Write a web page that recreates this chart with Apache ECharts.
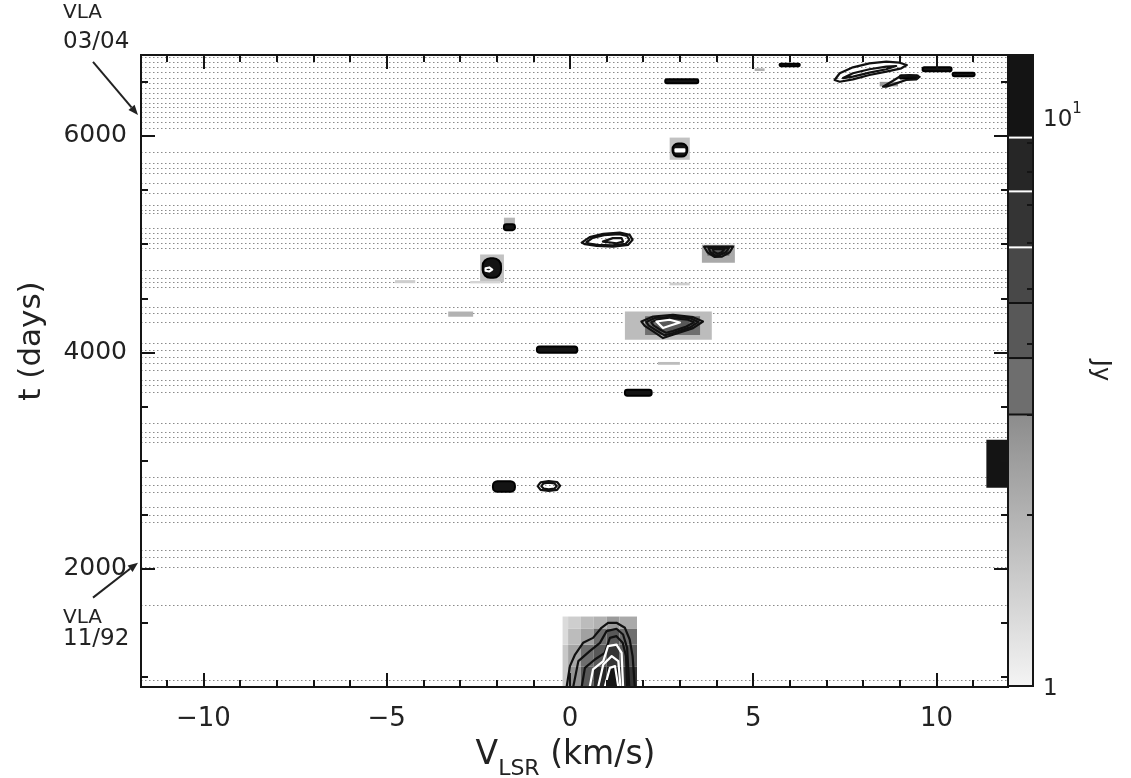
<!DOCTYPE html>
<html>
<head>
<meta charset="utf-8">
<script src="https://cdn.jsdelivr.net/npm/echarts@6/dist/echarts.min.js"></script>
<style>
  html, body { margin: 0; padding: 0; background: #fff; }
  #chart { width: 1131px; height: 778px; }
</style>
</head>
<body>
<div id="chart"></div>
<script>
// Velocity (km/s) and time (days) extents of the panel
const vRange = [-11.7, 11.95];
const tRange = [909, 6748];

// Tick positions
const vMajor = [-10, -5, 0, 5, 10];
const vMinor = [-11, -9, -8, -7, -6, -4, -3, -2, -1, 1, 2, 3, 4, 6, 7, 8, 9, 11];
const tMajor = [2000, 4000, 6000];
const tMinor = [1000, 1500, 2500, 3000, 3500, 4500, 5000, 5500, 6500];

// Observation epochs (days), drawn as dotted rows
const epochs = [
  6730, 6686, 6640, 6594, 6533, 6486, 6440, 6394, 6348, 6302, 6270, 6224,
  6178, 6132, 6071, 5855, 5748, 5702, 5656, 5564, 5471, 5363, 5317, 5289, 5151, 5099, 5058,
  5012, 4966, 4763, 4689, 4652, 4606, 4421, 4366, 4283, 4089, 4025, 3960,
  3905, 3840, 3748, 3701, 3637, 3351, 3268, 3221, 3175, 2852, 2778, 2714,
  2575, 2501, 2437, 2178, 2114, 2021, 1671, 978
];

// Flux cells: [v from, v to, t from, t to, flux density Jy]
const fluxCells = [
  [5.04, 5.31, 6600, 6625, 2.0],
  [8.45, 8.95, 6458, 6500, 2.6],
  [2.72, 3.27, 5780, 5985, 1.7],
  [-1.80, -1.50, 5180, 5245, 1.9],
  [3.60, 4.50, 4828, 4994, 2.2],
  [3.75, 4.35, 4895, 4975, 4.2],
  [-2.45, -1.80, 4650, 4905, 1.7],
  [-4.77, -4.22, 4640, 4668, 1.5],
  [-2.72, -1.90, 4638, 4660, 1.4],
  [2.72, 3.27, 4620, 4645, 1.5],
  [-3.32, -2.64, 4330, 4378, 2.0],
  [1.50, 3.87, 4117, 4378, 1.8],
  [2.05, 3.55, 4160, 4335, 3.3],
  [2.35, 3.25, 4200, 4310, 4.5],
  [2.40, 3.00, 3886, 3912, 1.8],
  [11.36, 11.93, 2751, 3194, 14],
  [-0.20, -0.05, 909, 1300, 1.6], [-0.20, -0.05, 1300, 1560, 1.3],
  [-0.05, 0.30, 909, 1100, 2.8], [-0.05, 0.30, 1100, 1300, 2.3], [-0.05, 0.30, 1300, 1450, 1.8], [-0.05, 0.30, 1450, 1560, 1.5],
  [0.30, 0.65, 909, 1100, 4.2], [0.30, 0.65, 1100, 1300, 3.4], [0.30, 0.65, 1300, 1450, 2.4], [0.30, 0.65, 1450, 1560, 1.8],
  [0.65, 1.00, 909, 1100, 7.5], [0.65, 1.00, 1100, 1300, 4.5], [0.65, 1.00, 1300, 1450, 3.0], [0.65, 1.00, 1450, 1560, 2.0],
  [1.00, 1.35, 909, 1100, 11], [1.00, 1.35, 1100, 1300, 7.0], [1.00, 1.35, 1300, 1450, 3.8], [1.00, 1.35, 1450, 1560, 2.6],
  [1.35, 1.83, 909, 1100, 6.0], [1.35, 1.83, 1100, 1300, 4.0], [1.35, 1.83, 1300, 1450, 3.0], [1.35, 1.83, 1450, 1560, 2.2]
];

// Compact maser spots: [v from, v to, t from, t to, peak Jy]
const spots = [
  [5.72, 6.27, 6645, 6668, 12],
  [2.60, 3.50, 6486, 6525, 12],
  [9.62, 10.41, 6598, 6635, 12],
  [10.44, 11.04, 6552, 6585, 12],
  [9.00, 9.50, 6530, 6560, 11],
  [2.80, 3.20, 5810, 5930, 12],
  [-1.80, -1.50, 5130, 5185, 11],
  [-2.38, -1.88, 4690, 4870, 12],
  [-0.90, 0.20, 3997, 4055, 12],
  [1.50, 2.23, 3600, 3655, 12],
  [-2.10, -1.50, 2712, 2810, 12]
];

// Contour levels (Jy) and contour paths [level, [[v, t], ...]]
const contourLevels = [3.0, 3.77, 4.71, 5.9, 7.4, 9.2];
const contours = [
  [3.0, [[7.22, 6517], [7.36, 6579], [7.72, 6634], [8.17, 6671], [8.63, 6686], [8.99, 6677], [9.19, 6655], [9.04, 6625], [8.63, 6594], [8.17, 6563], [7.72, 6523], [7.36, 6501]]],
  [3.77, [[7.45, 6535], [7.72, 6579], [8.17, 6616], [8.63, 6640], [8.90, 6646], [8.63, 6616], [8.17, 6585], [7.72, 6548]]],
  [3.0, [[8.54, 6455], [8.77, 6501], [8.99, 6547], [9.26, 6563], [9.54, 6547], [9.45, 6523], [9.17, 6517], [8.90, 6486], [8.63, 6455]]],
  [7.4, [[2.88, 5858], [3.12, 5858], [3.12, 5876], [2.88, 5876]]],
  [3.0, [[0.32, 5015], [0.54, 5065], [0.91, 5095], [1.36, 5107], [1.63, 5086], [1.71, 5040], [1.59, 4994], [1.18, 4978], [0.73, 4985], [0.41, 5000]]],
  [3.77, [[0.45, 5018], [0.62, 5058], [0.93, 5083], [1.34, 5093], [1.56, 5076], [1.62, 5040], [1.52, 5004], [1.16, 4990], [0.75, 4995], [0.52, 5005]]],
  [4.71, [[0.90, 5024], [1.17, 5056], [1.41, 5056], [1.45, 5024], [1.27, 5009]]],
  [3.0, [[3.66, 4978], [4.45, 4978], [4.36, 4925], [4.15, 4885], [3.95, 4882], [3.75, 4925]]],
  [3.77, [[3.78, 4966], [4.34, 4966], [4.25, 4925], [4.08, 4898], [3.95, 4900], [3.83, 4930]]],
  [4.71, [[3.90, 4955], [4.22, 4955], [4.14, 4925], [4.03, 4912], [3.92, 4930]]],
  [7.4, [[-2.30, 4755], [-2.20, 4748], [-2.12, 4765], [-2.20, 4785], [-2.30, 4778]]],
  [3.0, [[1.95, 4286], [2.27, 4332], [2.81, 4348], [3.36, 4326], [3.63, 4286], [3.36, 4225], [2.81, 4163], [2.54, 4133], [2.27, 4194], [2.04, 4246]]],
  [3.77, [[2.08, 4282], [2.32, 4318], [2.81, 4332], [3.30, 4314], [3.50, 4282], [3.28, 4232], [2.81, 4180], [2.58, 4158], [2.35, 4205], [2.15, 4248]]],
  [4.71, [[2.22, 4278], [2.40, 4305], [2.81, 4316], [3.22, 4302], [3.38, 4278], [3.18, 4240], [2.81, 4198], [2.62, 4182], [2.44, 4215], [2.28, 4250]]],
  [5.9, [[2.36, 4286], [2.72, 4302], [3.00, 4277], [2.72, 4246], [2.54, 4225]]],
  [3.0, [[-0.88, 2765], [-0.80, 2800], [-0.58, 2812], [-0.35, 2803], [-0.27, 2768], [-0.35, 2730], [-0.58, 2720], [-0.80, 2730]]],
  [3.77, [[-0.78, 2765], [-0.72, 2790], [-0.58, 2797], [-0.42, 2790], [-0.36, 2765], [-0.42, 2742], [-0.58, 2735], [-0.72, 2742]]],
  [3.0, [[-0.09, 909], [0.00, 1102], [0.14, 1209], [0.36, 1317], [0.63, 1363], [0.86, 1456], [1.04, 1502], [1.27, 1502], [1.50, 1456], [1.63, 1348], [1.71, 1194], [1.77, 909]]],
  [3.77, [[0.09, 909], [0.23, 1148], [0.54, 1240], [0.82, 1317], [1.00, 1425], [1.27, 1447], [1.45, 1394], [1.56, 1271], [1.62, 909]]],
  [4.71, [[0.32, 909], [0.41, 1086], [0.68, 1163], [0.95, 1225], [1.09, 1363], [1.27, 1379], [1.44, 1317], [1.53, 1194], [1.56, 909]]],
  [5.9, [[0.54, 909], [0.63, 1071], [0.91, 1148], [1.04, 1286], [1.27, 1301], [1.41, 1225], [1.45, 909]]],
  [7.4, [[0.77, 909], [0.91, 1117], [1.14, 1194], [1.32, 1148], [1.38, 909]]],
  [9.2, [[0.95, 909], [1.09, 1086], [1.23, 1102], [1.32, 909]]]
];

// Colour bar range (Jy) and its ticks
const cbarMax = 12.85;
const cbarTicks = [2, 3, 4, 5, 6, 7, 8, 9];
const cbarLabels = [1, 10];

// VLA epochs marked beside the time axis: [t, line 1, line 2, label side]
const vlaMarks = [
  [6194, 'VLA', '03/04', 'above'],
  [2058, 'VLA', '11/92', 'below']
];

const FONT = '"DejaVu Sans", "Liberation Sans", sans-serif';
const INK = '#151515';
const TEXT = '#222';
const bandGrays = [110, 88, 72, 52, 38, 20];
const contourInk = ['#111', '#111', '#111', '#fff', '#fff', '#fff'];

function grayOf(jy) {
  let g;
  if (jy < contourLevels[0]) {
    const f = Math.log10(Math.max(jy, 1)) / Math.log10(contourLevels[0]);
    g = Math.round(244 - f * (244 - 140));
  } else {
    let i = 0;
    while (i + 1 < contourLevels.length && jy >= contourLevels[i + 1]) i++;
    g = bandGrays[i];
  }
  return 'rgb(' + g + ',' + g + ',' + g + ')';
}
function levelIndex(jy) {
  let i = 0;
  while (i + 1 < contourLevels.length && jy >= contourLevels[i + 1] - 1e-9) i++;
  return i;
}
const minus = v => (v < 0 ? '\u2212' + (-v) : String(v));

function mainX(pos, values, len, withLabels) {
  const ax = {
    type: 'value', gridIndex: 0, position: pos, min: vRange[0], max: vRange[1], z: 10,
    axisLine: { show: false, onZero: false }, splitLine: { show: false },
    axisTick: { show: true, inside: true, length: len, customValues: values, lineStyle: { color: INK, width: 2 } },
    axisLabel: { show: false }
  };
  if (withLabels) {
    ax.axisLabel = {
      show: true, customValues: vMajor, formatter: minus, margin: 19,
      fontSize: 26, fontFamily: FONT, color: TEXT
    };
    ax.name = '{v|V}{s|LSR}{v| (km/s)}';
    ax.nameLocation = 'middle';
    ax.nameGap = 52;
    ax.nameTextStyle = {
      padding: [0, 18, 0, 0],
      rich: {
        v: { fontSize: 33, fontFamily: FONT, color: TEXT, verticalAlign: 'bottom', padding: [0, 0, 8, 0] },
        s: { fontSize: 22, fontFamily: FONT, color: TEXT, verticalAlign: 'bottom' }
      }
    };
  }
  return ax;
}
function mainY(pos, values, len, withLabels) {
  const ax = {
    type: 'value', gridIndex: 0, position: pos, min: tRange[0], max: tRange[1], z: 10,
    axisLine: { show: false, onZero: false }, splitLine: { show: false },
    axisTick: { show: true, inside: true, length: len, customValues: values, lineStyle: { color: INK, width: 2 } },
    axisLabel: { show: false }
  };
  if (withLabels) {
    ax.axisLabel = {
      show: true, customValues: tMajor, margin: 14, formatter: v => String(v),
      fontSize: 25, fontFamily: FONT, color: TEXT
    };
    ax.name = 't (days)';
    ax.nameLocation = 'middle';
    ax.nameRotate = 90;
    ax.nameGap = 94;
    ax.nameTextStyle = { fontSize: 31, fontFamily: FONT, color: TEXT, padding: [0, 0, 0, 60] };
  }
  return ax;
}

const cbarSegments = [];
const cbarEdges = [1].concat(contourLevels, [cbarMax]);
for (let i = 0; i + 1 < cbarEdges.length; i++) cbarSegments.push([cbarEdges[i], cbarEdges[i + 1], i]);

const chart = echarts.init(document.getElementById('chart'), null, { renderer: 'canvas' });

const option = {
  animation: false,
  backgroundColor: '#fff',
  grid: [
    { left: 141, top: 55, width: 867, height: 632, show: true, borderColor: INK, borderWidth: 2, z: 20,
      backgroundColor: 'transparent', containLabel: false, outerBoundsMode: 'none' },
    { left: 1008, top: 55, width: 25, height: 631, show: true, borderColor: INK, borderWidth: 2, z: 20,
      backgroundColor: 'transparent', containLabel: false, outerBoundsMode: 'none' }
  ],
  xAxis: [
    mainX('bottom', vMajor, 14, true),
    mainX('bottom', vMinor, 7, false),
    mainX('top', vMajor, 14, false),
    mainX('top', vMinor, 7, false),
    { type: 'value', gridIndex: 1, min: 0, max: 1, show: false }
  ],
  yAxis: [
    mainY('left', tMajor, 14, true),
    mainY('left', tMinor, 7, false),
    mainY('right', tMajor, 14, false),
    mainY('right', tMinor, 7, false),
    {
      type: 'value', gridIndex: 1, position: 'right', min: 0, max: Math.log10(cbarMax), z: 10,
      axisLine: { show: false, onZero: false }, splitLine: { show: false },
      axisTick: { show: true, inside: true, length: 6, customValues: cbarTicks.map(Math.log10), lineStyle: { color: INK, width: 2 } },
      axisLabel: {
        show: true, customValues: cbarLabels.map(Math.log10), margin: 10,
        formatter: v => (v < 0.5 ? '{b|1}' : '{b|10}{p|1}'),
        rich: {
          b: { fontSize: 23, fontFamily: FONT, color: TEXT, verticalAlign: 'top', padding: [7, 0, 0, 0] },
          p: { fontSize: 15, fontFamily: FONT, color: TEXT, verticalAlign: 'top' }
        }
      },
      name: 'Jy', nameLocation: 'middle', nameRotate: -90, nameGap: 55,
      nameTextStyle: { fontSize: 24, fontFamily: FONT, color: TEXT }
    }
  ],
  series: [
    {
      // dotted rows at each observing epoch
      type: 'custom', xAxisIndex: 0, yAxisIndex: 0, z: 1, silent: true,
      data: epochs.map(t => [vRange[0], t]),
      renderItem(params, api) {
        const y = Math.round(api.coord([vRange[0], api.value(1)])[1]) + 0.5;
        const cs = params.coordSys;
        return {
          type: 'line',
          shape: { x1: cs.x, y1: y, x2: cs.x + cs.width, y2: y },
          style: { stroke: '#8a8a8a', lineWidth: 1, lineDash: [1.5, 2.5] }
        };
      }
    },
    {
      // grey-scale flux image
      type: 'custom', xAxisIndex: 0, yAxisIndex: 0, z: 2, silent: true, clip: true,
      encode: { x: [0, 1], y: [2, 3] },
      data: fluxCells,
      renderItem(params, api) {
        const p0 = api.coord([api.value(0), api.value(3)]);
        const p1 = api.coord([api.value(1), api.value(2)]);
        return {
          type: 'rect',
          shape: { x: p0[0], y: p0[1], width: p1[0] - p0[0], height: p1[1] - p0[1] },
          style: { fill: grayOf(api.value(4)) }
        };
      }
    },
    {
      // compact bright spots
      type: 'custom', xAxisIndex: 0, yAxisIndex: 0, z: 3, silent: true, clip: true,
      encode: { x: [0, 1], y: [2, 3] },
      data: spots,
      renderItem(params, api) {
        const p0 = api.coord([api.value(0), api.value(3)]);
        const p1 = api.coord([api.value(1), api.value(2)]);
        const w = p1[0] - p0[0], h = p1[1] - p0[1];
        return {
          type: 'rect',
          shape: { x: p0[0], y: p0[1], width: w, height: h, r: Math.min(w, h) / 2.4 },
          style: { fill: grayOf(api.value(4)), stroke: '#000', lineWidth: 2 }
        };
      }
    },
    {
      // contour lines
      type: 'custom', xAxisIndex: 0, yAxisIndex: 0, z: 4, silent: true, clip: true,
      data: contours.map((c, i) => [c[1][0][0], c[1][0][1], i]),
      renderItem(params, api) {
        const c = contours[params.dataIndex];
        const pts = c[1].map(p => api.coord(p));
        return {
          type: 'polygon',
          shape: { points: pts },
          style: { fill: 'none', stroke: contourInk[levelIndex(c[0])], lineWidth: 2.2, lineJoin: 'round' }
        };
      }
    },
    {
      // VLA epoch annotations with arrows
      type: 'custom', xAxisIndex: 0, yAxisIndex: 0, z: 5, silent: true, clip: false,
      data: vlaMarks.map(m => [vRange[0], m[0]]),
      renderItem(params, api) {
        const m = vlaMarks[params.dataIndex];
        const tip = api.coord([vRange[0], m[0]]);
        tip[0] -= 3;
        const up = m[3] === 'above';
        const start = [tip[0] - 45, tip[1] + (up ? -53 : 35)];
        const ang = Math.atan2(tip[1] - start[1], tip[0] - start[0]);
        const hl = 10, hw = 4;
        const bx = tip[0] - hl * Math.cos(ang), by = tip[1] - hl * Math.sin(ang);
        const head = [tip, [bx + hw * Math.sin(ang), by - hw * Math.cos(ang)], [bx - hw * Math.sin(ang), by + hw * Math.cos(ang)]];
        const tx = start[0] - 30;
        const y1 = up ? start[1] - 49 : start[1] + 20;
        const y2 = up ? start[1] - 20 : start[1] + 41;
        const base = { fontFamily: FONT, fill: TEXT, verticalAlign: 'middle', align: 'left' };
        return {
          type: 'group',
          children: [
            { type: 'line', shape: { x1: start[0], y1: start[1], x2: bx, y2: by }, style: { stroke: TEXT, lineWidth: 2 } },
            { type: 'polygon', shape: { points: head }, style: { fill: TEXT } },
            { type: 'text', style: Object.assign({ text: m[1], x: tx, y: y1, fontSize: 20 }, base) },
            { type: 'text', style: Object.assign({ text: m[2], x: tx, y: y2, fontSize: 23 }, base) }
          ]
        };
      }
    },
    {
      // colour bar fill
      type: 'custom', xAxisIndex: 4, yAxisIndex: 4, z: 2, silent: true,
      data: cbarSegments.map(s => [0, Math.log10(s[0]), Math.log10(s[1]), s[2]]),
      renderItem(params, api) {
        const cs = params.coordSys;
        const yLo = api.coord([0, api.value(1)])[1];
        const yHi = api.coord([0, api.value(2)])[1];
        const idx = api.value(3);
        const fill = idx === 0
          ? new echarts.graphic.LinearGradient(0, 1, 0, 0, [
              { offset: 0, color: grayOf(1) },
              { offset: 1, color: grayOf(contourLevels[0] - 0.01) }
            ])
          : grayOf(contourLevels[idx - 1]);
        return {
          type: 'rect',
          shape: { x: cs.x, y: yHi, width: cs.width, height: yLo - yHi },
          style: { fill: fill }
        };
      }
    },
    {
      // contour levels marked on the colour bar
      type: 'custom', xAxisIndex: 4, yAxisIndex: 4, z: 3, silent: true,
      data: contourLevels.map(l => [0, Math.log10(l)]),
      renderItem(params, api) {
        const cs = params.coordSys;
        const y = api.coord([0, api.value(1)])[1];
        return {
          type: 'line',
          shape: { x1: cs.x, y1: y, x2: cs.x + cs.width, y2: y },
          style: { stroke: contourInk[params.dataIndex], lineWidth: 2 }
        };
      }
    }
  ]
};

chart.setOption(option);
</script>
</body>
</html>
